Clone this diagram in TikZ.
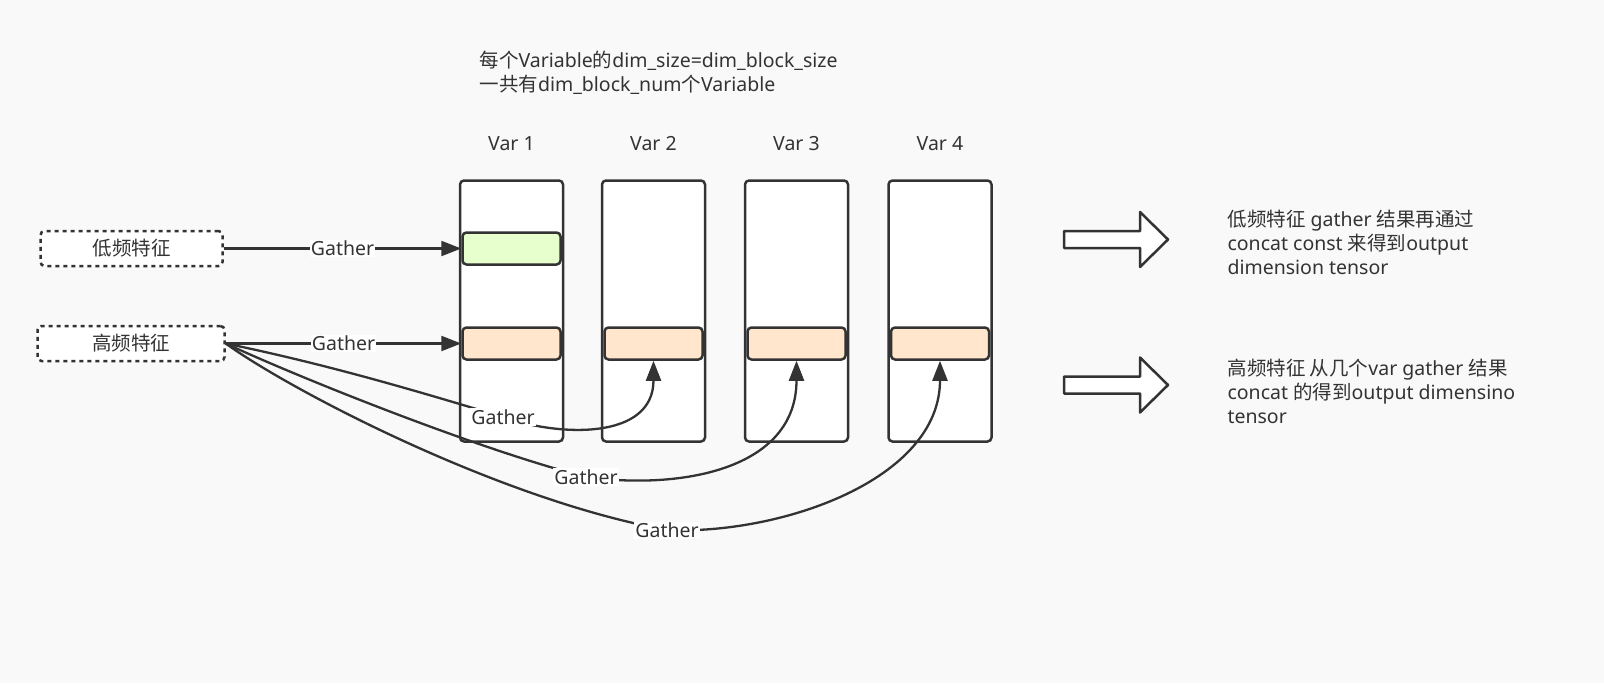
\documentclass[tikz,border=0pt]{standalone}
\usepackage{fontspec}
\setmainfont{Noto Sans}
\newfontfamily\cjk{Noto Sans CJK SC}
\usetikzlibrary{arrows.meta,positioning}
\definecolor{ink}{RGB}{51,51,51}
\definecolor{canvas}{RGB}{249,249,249}
\definecolor{lowfill}{RGB}{230,255,204}
\definecolor{highfill}{RGB}{255,230,204}

\begin{document}
\begin{tikzpicture}[
  x=1pt,y=-1pt,
  line join=round,
  >={Triangle[length=20pt,width=15pt]},
  txt/.style={font=\fontsize{19.5}{24}\selectfont,text=ink},
  lbl/.style={txt,fill=white,inner sep=1pt},
  col/.style={draw=ink,line width=2.5pt,fill=white,rounded corners=4pt,
    minimum width=103pt,minimum height=261pt,inner sep=0pt},
  blk/.style={draw=ink,line width=2.5pt,rounded corners=4pt,
    minimum width=98pt,minimum height=32pt,inner sep=0pt},
  feat/.style={txt,draw=ink,line width=2.5pt,dash pattern=on 4pt off 4pt,
    rounded corners=4pt,fill=white,minimum height=35pt,inner sep=0pt},
  link/.style={->,draw=ink,line width=2.3pt}
]
\useasboundingbox (0,0) rectangle (1604,683);
\fill[canvas] (0,0) rectangle (1604,683);

% heading note
\node[txt,anchor=west,align=left] (note) at (476,73)
  {{\cjk 每个}Variable{\cjk 的}dim\_size=dim\_block\_size\\{\cjk 一共有}dim\_block\_num{\cjk 个}Variable};

% variable columns
\foreach \i/\x in {1/511.5,2/653.5,3/796.5,4/940}{
  \node[txt] (var\i) at (\x,144) {Var \i};
  \node[col] (col\i) at (\x,311) {};
  \node[blk,fill=highfill] (hi\i) at (\x,343.5) {};
}
\node[blk,fill=lowfill] (lo1) at (511.5,248.5) {};

% feature boxes
\node[feat,minimum width=182pt] (lowf) at (131.5,248.5) {\cjk 低频特征};
\node[feat,minimum width=187pt] (highf) at (131,343.5) {\cjk 高频特征};

% gather connectors
\draw[link] (lowf) -- node[lbl] {Gather} (lo1);
\draw[link] (highf) -- node[lbl] {Gather} (hi1);
\coordinate (via2) at (503,417);
\coordinate (via3) at (586,477);
\coordinate (via4) at (667,530);
\draw[link] (highf.east) .. controls (330,365) and (420,392) .. (via2)
  node[lbl] {Gather} .. controls (560,437) and (653.5,440) .. (hi2.south);
\draw[link] (highf.east) .. controls (300,378) and (480,450) .. (via3)
  node[lbl] {Gather} .. controls (680,490) and (796.5,470) .. (hi3.south);
\draw[link] (highf.east) .. controls (290,390) and (500,500) .. (via4)
  node[lbl] {Gather} .. controls (780,535) and (940,480) .. (hi4.south);

% result arrows
\foreach \y in {239.5,385}
  \draw[draw=ink,line width=2.5pt,fill=white]
    (1064,\y-8.5) -- (1140,\y-8.5) -- (1140,\y-27.5) -- (1168,\y)
    -- (1140,\y+27.5) -- (1140,\y+8.5) -- (1064,\y+8.5) -- cycle;

% result notes
\node[txt,anchor=west,align=left] (lowres) at (1224,242)
  {{\cjk 低频特征} gather {\cjk 结果再通过}\\concat const {\cjk 来得到}output\\dimension tensor};
\node[txt,anchor=west,align=left] (highres) at (1224,391)
  {{\cjk 高频特征 从几个}var gather {\cjk 结果}\\concat {\cjk 的得到}output dimensino\\tensor};
\end{tikzpicture}
\end{document}
